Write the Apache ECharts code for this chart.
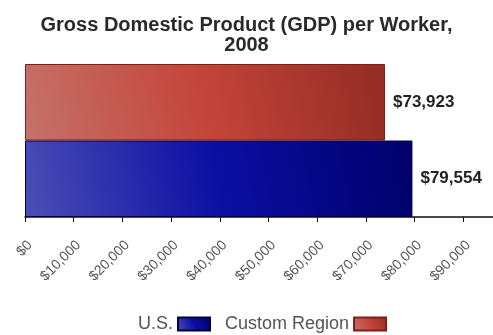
<!DOCTYPE html>
<html>
<head>
<meta charset="utf-8">
<script src="https://cdn.jsdelivr.net/npm/echarts@6/dist/echarts.min.js"></script>
<style>
  html, body { margin: 0; padding: 0; background: #fff; }
  #chart { width: 493px; height: 335px; }
</style>
</head>
<body>
<div id="chart"></div>
<script>
// data
const categories = ['GDP per Worker'];
const seriesNames = ['U.S.', 'Custom Region'];
const usValues = [79554];
const regionValues = [73923];
const tickStep = 10000;
const axisMax = 100000;

const chart = echarts.init(document.getElementById('chart'));

// glossy look: light at bottom-left, dark at top-right
const blueFill = new echarts.graphic.LinearGradient(0, 1, 1, 0, [
  { offset: 0, color: '#4c4eb6' },
  { offset: 0.5, color: '#0c0ea2' },
  { offset: 1, color: '#00006a' }
]);
const redFill = new echarts.graphic.LinearGradient(0, 1, 1, 0, [
  { offset: 0, color: '#c4726a' },
  { offset: 0.5, color: '#c4443a' },
  { offset: 1, color: '#922c24' }
]);

const money = v => '$' + v.toLocaleString('en-US');

const valueLabel = {
  show: true,
  position: 'right',
  distance: 8,
  formatter: p => money(p.value),
  color: '#222',
  fontWeight: 'bold',
  fontSize: 17,
  fontFamily: 'Liberation Sans, Arial, sans-serif'
};

const option = {
  animation: false,
  title: {
    text: 'Gross Domestic Product (GDP) per Worker,\n2008',
    left: 'center',
    top: 10,
    textStyle: {
      fontFamily: 'Liberation Sans, Arial, sans-serif',
      fontSize: 20,
      fontWeight: 'bold',
      color: '#2a2a2a',
      lineHeight: 20
    }
  },
  legend: {
    data: seriesNames,
    top: 310,
    left: 133,
    align: 'right',
    icon: 'rect',
    itemWidth: 32,
    itemHeight: 13,
    itemGap: 14,
    textStyle: {
      fontFamily: 'Liberation Sans, Arial, sans-serif',
      fontSize: 18,
      color: '#555'
    }
  },
  grid: {
    left: 25,
    right: -19,
    top: 64,
    height: 153,
    outerBoundsMode: 'none'
  },
  xAxis: {
    type: 'value',
    min: 0,
    max: axisMax,
    interval: tickStep,
    axisLine: { show: true, lineStyle: { color: '#111', width: 1.5 } },
    axisTick: { show: true, length: 5, lineStyle: { color: '#111' } },
    splitLine: { show: false },
    axisLabel: {
      rotate: 45,
      margin: 21,
      verticalAlign: 'top',
      color: '#555',
      fontFamily: 'Liberation Sans, Arial, sans-serif',
      fontSize: 14,
      formatter: v => v >= axisMax ? '' : money(v)
    }
  },
  yAxis: {
    type: 'category',
    data: categories,
    axisLine: { show: false },
    axisTick: { show: false },
    axisLabel: { show: false }
  },
  series: [
    {
      name: seriesNames[1],
      type: 'bar',
      data: regionValues,
      barGap: '0%',
      barCategoryGap: '0%',
      itemStyle: { color: redFill, borderColor: '#7a2018', borderWidth: 1 },
      label: valueLabel
    },
    {
      name: seriesNames[0],
      type: 'bar',
      data: usValues,
      barGap: '0%',
      barCategoryGap: '0%',
      itemStyle: { color: blueFill, borderColor: '#000040', borderWidth: 1 },
      label: valueLabel
    }
  ]
};

chart.setOption(option);
</script>
</body>
</html>
